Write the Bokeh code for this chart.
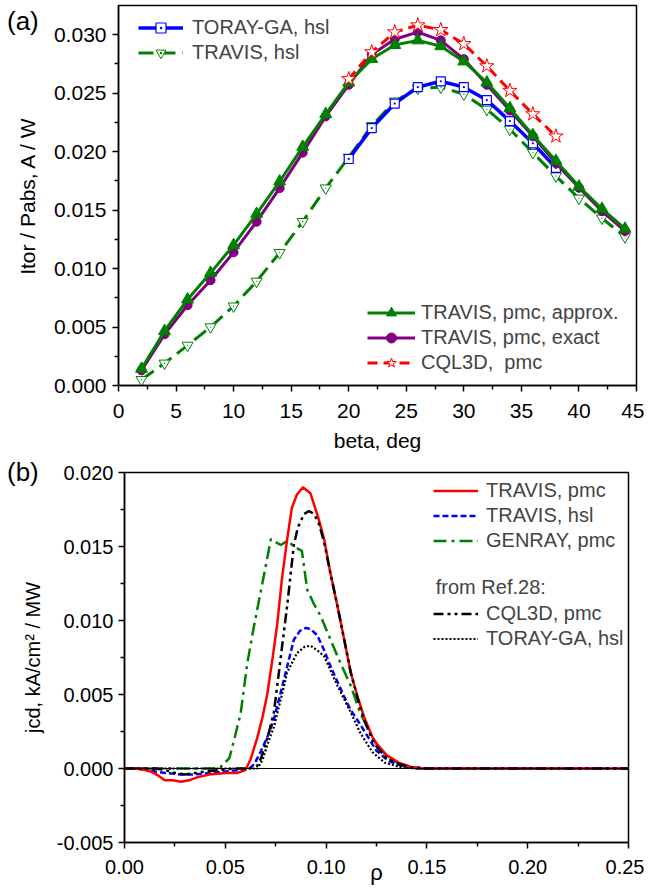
from bokeh.plotting import figure
from bokeh.models import (Legend, LegendItem, Label, Span, FixedTicker,
                          NumeralTickFormatter, Range1d, Div)
from bokeh.embed import file_html
from bokeh.resources import INLINE

# ---------------- data: panel (a) ----------------
beta_all = [2, 4, 6, 8, 10, 12, 14, 16, 18, 20, 22, 24, 26, 28, 30, 32, 34, 36, 38, 40, 42, 44]
travis_pmc_approx = [0.00143, 0.00466, 0.00735, 0.00963, 0.0120, 0.01467, 0.01744, 0.0204, 0.0232,
                     0.0259, 0.0279, 0.0291, 0.0295, 0.0290, 0.0277, 0.0259, 0.0237, 0.0214,
                     0.0192, 0.0170, 0.0151, 0.0134]
travis_pmc_exact = [0.00129, 0.00437, 0.00686, 0.0090, 0.01138, 0.0140, 0.01687, 0.0199, 0.0230,
                    0.0257, 0.0283, 0.0296, 0.0302, 0.0295, 0.0279, 0.0257, 0.0235, 0.0213,
                    0.0190, 0.0169, 0.0149, 0.0132]
travis_hsl = [0.0005, 0.0019, 0.00343, 0.0050, 0.00678, 0.0089, 0.01135, 0.0140, 0.01687,
              0.0195, 0.0222, 0.0243, 0.0254, 0.0255, 0.0249, 0.0236, 0.0219, 0.0199,
              0.0179, 0.0160, 0.0143, 0.0127]
beta_short = [20, 22, 24, 26, 28, 30, 32, 34, 36, 38]
toray_hsl = [0.01936, 0.0220, 0.0241, 0.0255, 0.0260, 0.0255, 0.0244, 0.0226, 0.0207, 0.0186]
cql3d_pmc = [0.0262, 0.0285, 0.0302, 0.0308, 0.0304, 0.0292, 0.0273, 0.0252, 0.0232, 0.0213]

# ---------------- data: panel (b) ----------------
rho_travis_pmc = [0, 0.005, 0.010, 0.013, 0.017, 0.020, 0.024, 0.028, 0.032, 0.036, 0.042, 0.050,
                  0.056, 0.060, 0.0625, 0.0659, 0.0685, 0.0708, 0.0735, 0.0758, 0.078, 0.0807,
                  0.083, 0.0855, 0.0885, 0.0922, 0.096, 0.099, 0.102, 0.1056, 0.109, 0.1122,
                  0.1155, 0.1188, 0.1237, 0.130, 0.136, 0.142, 0.148, 0.160, 0.25]
jcd_travis_pmc = [0, 0, -0.0001, -0.0002, -0.0005, -0.0008, -0.0008, -0.0009, -0.0008, -0.0006,
                  -0.0004, -0.0003, -0.0003, -0.0001, 0.0006, 0.0021, 0.0035, 0.0050, 0.0075,
                  0.0098, 0.0127, 0.0155, 0.0176, 0.0185, 0.0190, 0.0186, 0.0170, 0.0155, 0.0133,
                  0.0110, 0.0087, 0.0065, 0.0049, 0.0035, 0.0019, 0.0009, 0.0004, 0.0001, 0.0,
                  0.0, 0.0]
rho_travis_hsl = [0, 0.010, 0.015, 0.020, 0.028, 0.035, 0.042, 0.050, 0.058, 0.062, 0.0644,
                  0.0674, 0.0708, 0.0741, 0.0774, 0.0807, 0.084, 0.087, 0.090, 0.0925, 0.0956,
                  0.099, 0.1022, 0.1055, 0.1088, 0.1120, 0.1154, 0.120, 0.125, 0.131, 0.139,
                  0.150, 0.25]
jcd_travis_hsl = [0, 0, -0.0002, -0.0003, -0.0004, -0.0004, -0.0003, -0.0002, -0.0001, 0,
                  0.0003, 0.0011, 0.0021, 0.0033, 0.0051, 0.0069, 0.0087, 0.0093, 0.0095,
                  0.0094, 0.0090, 0.0080, 0.0069, 0.0059, 0.0049, 0.0040, 0.0033, 0.0023,
                  0.0012, 0.0005, 0.0001, 0, 0]
rho_genray_pmc = [0, 0.047, 0.052, 0.0543, 0.0576, 0.0609, 0.0642, 0.0675, 0.0708, 0.0726, 0.075,
                  0.0775, 0.081, 0.084, 0.088, 0.0906, 0.094, 0.0973, 0.1022, 0.1072, 0.1122,
                  0.1171, 0.122, 0.126, 0.131, 0.137, 0.145, 0.25]
jcd_genray_pmc = [0, 0, 0.0007, 0.0019, 0.0037, 0.0071, 0.0096, 0.0119, 0.0142, 0.0155, 0.0153,
                  0.0151, 0.0154, 0.0150, 0.0147, 0.0121, 0.0111, 0.0103, 0.0087, 0.0071,
                  0.0056, 0.0037, 0.0024, 0.0014, 0.0007, 0.0003, 0, 0]
rho_cql3d_pmc = [0, 0.010, 0.015, 0.020, 0.025, 0.030, 0.040, 0.047, 0.055, 0.062, 0.066, 0.068,
                 0.0716, 0.0741, 0.0766, 0.0782, 0.0807, 0.084, 0.086, 0.0891, 0.0915, 0.094,
                 0.0963, 0.099, 0.102, 0.1056, 0.109, 0.1122, 0.1155, 0.1188, 0.1237, 0.130,
                 0.136, 0.142, 0.150, 0.25]
jcd_cql3d_pmc = [0, 0, 0, -0.0001, -0.0003, -0.0004, -0.0002, -0.0001, 0, 0, 0.0002, 0.0008,
                 0.0024, 0.0038, 0.0065, 0.0083, 0.0110, 0.0151, 0.0163, 0.0172, 0.0174, 0.0172,
                 0.0166, 0.0153, 0.0133, 0.0110, 0.0087, 0.0065, 0.0048, 0.0033, 0.0017, 0.0007,
                 0.0003, 0.0001, 0, 0]
rho_toray_hsl = [0, 0.066, 0.0685, 0.0716, 0.0741, 0.0774, 0.0807, 0.0856, 0.0891, 0.0922,
                 0.0955, 0.099, 0.1023, 0.1056, 0.1089, 0.1122, 0.117, 0.123, 0.129, 0.1365,
                 0.145, 0.25]
jcd_toray_hsl = [0, 0, 0.0006, 0.0019, 0.0028, 0.0046, 0.0065, 0.0078, 0.0082, 0.0083, 0.0080,
                 0.0076, 0.0066, 0.0056, 0.0047, 0.0038, 0.0024, 0.0011, 0.0004, 0.0001, 0, 0]

x_ticks_a = [0, 5, 10, 15, 20, 25, 30, 35, 40, 45]
y_ticks_a = [0.000, 0.005, 0.010, 0.015, 0.020, 0.025, 0.030]
x_ticks_b = [0.00, 0.05, 0.10, 0.15, 0.20, 0.25]
y_ticks_b = [-0.005, 0.000, 0.005, 0.010, 0.015, 0.020]

FONT = "Liberation Sans"
BLUE = "#0000ff"
GREEN = "#008000"
PURPLE = "#800080"
RED = "#ff0000"


def style_axes(p, tick_size, label_size):
    for ax in (p.xaxis[0], p.yaxis[0]):
        ax.axis_line_width = 1.5
        ax.axis_line_color = "black"
        ax.major_tick_line_width = 1.5
        ax.minor_tick_line_width = 1.5
        ax.major_tick_in = 0
        ax.major_tick_out = 6
        ax.minor_tick_in = 0
        ax.minor_tick_out = 4
        ax.major_label_text_font = FONT
        ax.major_label_text_font_size = tick_size
        ax.major_label_text_font_style = "normal"
        ax.major_label_text_color = "black"
        ax.axis_label_text_font = FONT
        ax.axis_label_text_font_size = label_size
        ax.axis_label_text_font_style = "normal"
        ax.axis_label_text_color = "black"
    p.xgrid.visible = False
    p.ygrid.visible = False
    p.outline_line_color = "black"
    p.outline_line_width = 1.5
    p.outline_line_alpha = 1.0


def corner_div(text, left, top):
    html = ('<span style="font-family: \'Liberation Sans\', Arial, sans-serif; '
            'font-size: 26px; color: black; line-height: 30px;">%s</span>' % text)
    return Div(text=html, width=44, height=30,
               styles={"position": "absolute", "left": "%dpx" % left,
                       "top": "%dpx" % top, "z-index": "10", "margin": "0",
                       "font-size": "26px", "line-height": "30px",
                       "font-family": "'Liberation Sans', Arial, sans-serif"})


# ---------------- panel (a) ----------------
p1 = figure(width=644, height=455, frame_width=518, frame_height=380,
            min_border_left=118, min_border_right=8, min_border_top=5, min_border_bottom=70,
            x_range=Range1d(0, 45), y_range=Range1d(0, 0.03248),
            output_backend="svg", toolbar_location=None)
style_axes(p1, "21px", "21px")
p1.xaxis.ticker = FixedTicker(ticks=x_ticks_a, minor_ticks=[2.5 + 5 * i for i in range(9)])
p1.yaxis.ticker = FixedTicker(ticks=y_ticks_a, minor_ticks=[0.0025 + 0.005 * i for i in range(6)])
p1.yaxis.formatter = NumeralTickFormatter(format="0.000")
p1.xaxis.major_label_standoff = 12
p1.yaxis.major_label_standoff = 6
p1.xaxis.axis_label = "beta, deg"
p1.yaxis.axis_label = "Itor / Pabs, A / W"
p1.xaxis.axis_label_standoff = 8
p1.yaxis.axis_label_standoff = 12

l_hsl = p1.line(beta_all, travis_hsl, line_color=GREEN, line_width=3, line_dash="15 7")
s_hsl = p1.scatter(beta_all, travis_hsl, marker="inverted_triangle", size=11,
                   line_color=GREEN, fill_color="white", line_width=1)
d_hsl = p1.scatter(beta_all, travis_hsl, marker="dot", size=5, line_color=GREEN,
                   fill_color=GREEN)
l_tor = p1.line(beta_short, toray_hsl, line_color=BLUE, line_width=3.5)
s_tor = p1.scatter(beta_short, toray_hsl, marker="square_dot", size=9,
                   line_color=BLUE, fill_color="white", line_width=1.2)
l_ex = p1.line(beta_all, travis_pmc_exact, line_color=PURPLE, line_width=3)
s_ex = p1.scatter(beta_all, travis_pmc_exact, marker="circle", size=9,
                  line_color=PURPLE, fill_color=PURPLE)
l_ap = p1.line(beta_all, travis_pmc_approx, line_color=GREEN, line_width=3)
s_ap = p1.scatter(beta_all, travis_pmc_approx, marker="triangle", size=12,
                  line_color=GREEN, fill_color=GREEN)
l_cq = p1.line(beta_short, cql3d_pmc, line_color=RED, line_width=3, line_dash="10 6")
s_cq = p1.scatter(beta_short, cql3d_pmc, marker="star", size=15,
                  line_color=RED, fill_color="white", line_width=1)


def make_legend(items, loc, glyph_w, standoff, size):
    lg = Legend(items=items, location=loc, orientation="vertical",
                glyph_width=glyph_w, glyph_height=25, label_height=25, spacing=0,
                padding=0, margin=0, label_standoff=standoff,
                label_text_font=FONT, label_text_font_size=size,
                border_line_alpha=0, background_fill_alpha=0)
    return lg


leg_a1 = make_legend([LegendItem(label="TORAY-GA, hsl", renderers=[l_tor, s_tor]),
                      LegendItem(label="TRAVIS, hsl", renderers=[l_hsl, s_hsl, d_hsl])],
                     (20, 320), 45, 9, "20px")
leg_a2 = make_legend([LegendItem(label="TRAVIS, pmc, approx.", renderers=[l_ap, s_ap]),
                      LegendItem(label="TRAVIS, pmc, exact", renderers=[l_ex, s_ex]),
                      LegendItem(label="CQL3D,  pmc", renderers=[l_cq, s_cq])],
                     (249, 10), 48, 6, "20px")
p1.add_layout(leg_a1)
p1.add_layout(leg_a2)

# ---------------- panel (b) ----------------
p2 = figure(width=644, height=435, frame_width=504, frame_height=370,
            min_border_left=124, min_border_right=16, min_border_top=17, min_border_bottom=48,
            x_range=Range1d(0, 0.25), y_range=Range1d(-0.005, 0.020),
            output_backend="svg", toolbar_location=None)
style_axes(p2, "20px", "20px")
p2.xaxis.ticker = FixedTicker(ticks=x_ticks_b, minor_ticks=[0.025 + 0.05 * i for i in range(5)])
p2.yaxis.ticker = FixedTicker(ticks=y_ticks_b, minor_ticks=[-0.0025 + 0.005 * i for i in range(5)])
p2.xaxis.formatter = NumeralTickFormatter(format="0.00")
p2.yaxis.formatter = NumeralTickFormatter(format="0.000")
p2.xaxis.major_label_standoff = 11
p2.yaxis.major_label_standoff = 5
p2.xaxis.axis_label = "ρ"
p2.xaxis.axis_label_text_font_size = "22px"
p2.xaxis.axis_label_standoff = -17
p2.yaxis.axis_label = "jcd, kA/cm² / MW"
p2.yaxis.axis_label_standoff = 10

p2.add_layout(Span(location=0, dimension="width", line_color="black", line_width=1))

b_gen = p2.line(rho_genray_pmc, jcd_genray_pmc, line_color=GREEN, line_width=2.5,
                line_dash="13 5 3 5")
b_hsl = p2.line(rho_travis_hsl, jcd_travis_hsl, line_color=BLUE, line_width=2.5,
                line_dash="6 3")
b_tor = p2.line(rho_toray_hsl, jcd_toray_hsl, line_color="black", line_width=2.2,
                line_dash="2 2")
b_pmc = p2.line(rho_travis_pmc, jcd_travis_pmc, line_color=RED, line_width=2.5)
b_cq = p2.line(rho_cql3d_pmc, jcd_cql3d_pmc, line_color="black", line_width=2.5,
               line_dash="10 4 3 4 3 4")

leg_b1 = make_legend([LegendItem(label="TRAVIS, pmc", renderers=[b_pmc]),
                      LegendItem(label="TRAVIS, hsl", renderers=[b_hsl]),
                      LegendItem(label="GENRAY, pmc", renderers=[b_gen])],
                     (309, 289), 45, 8, "20px")
leg_b2 = make_legend([LegendItem(label="CQL3D, pmc", renderers=[b_cq]),
                      LegendItem(label="TORAY-GA, hsl", renderers=[b_tor])],
                     (309, 191), 45, 8, "20px")
p2.add_layout(leg_b1)
p2.add_layout(leg_b2)
p2.add_layout(Label(x=0.1544, y=0.01227, text="from Ref.28:", text_font=FONT,
                    text_font_size="20px", text_baseline="middle", text_align="left"))

div_a = corner_div("(a)", 7, 6)
div_b = corner_div("(b)", 7, 457)

open("out.html", "w").write(file_html([p1, p2, div_a, div_b], INLINE))
